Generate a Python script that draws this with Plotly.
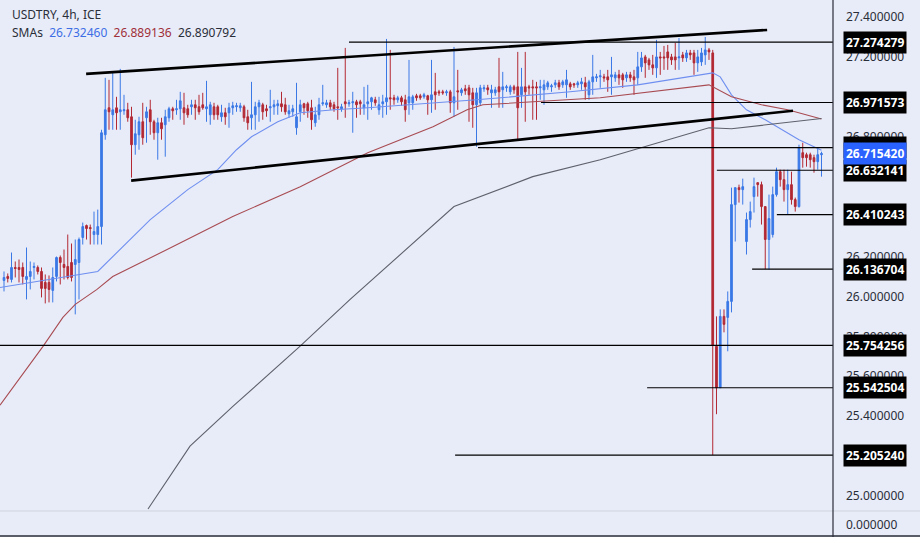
import plotly.graph_objects as go

# ---------------- data (USDTRY 4h) ----------------
opens = [26.080,26.100,26.085,26.145,26.145,26.145,26.085,26.100,26.145,26.145,
26.125,26.070,26.070,26.030,26.100,26.195,26.160,26.150,26.170,26.160,
26.170,26.295,26.355,26.345,26.310,26.310,26.350,26.810,26.945,26.910,
26.945,26.925,26.930,26.935,26.900,26.760,26.810,26.875,26.895,26.935,
26.875,26.820,26.870,26.860,26.895,26.940,26.935,26.940,26.945,26.940,
26.950,26.960,26.950,26.960,26.940,26.910,26.950,26.950,26.900,26.920,
26.920,26.945,26.950,26.945,26.950,26.900,26.895,26.910,26.950,26.960,
26.940,26.945,26.950,26.955,26.965,26.960,26.915,26.925,26.845,26.925,
26.965,26.965,26.945,26.870,26.910,26.965,26.960,26.970,26.960,26.950,
26.940,26.975,26.965,26.970,26.975,26.975,26.945,26.965,26.975,26.985,
26.935,26.965,26.975,26.995,26.995,26.985,26.995,26.985,26.970,26.970,
27.005,27.005,27.000,27.005,26.985,27.025,27.025,27.025,27.020,27.025,
26.970,27.030,27.020,27.040,27.045,27.020,26.960,26.970,27.040,27.045,
27.020,27.020,27.050,27.035,27.045,27.025,27.050,27.050,27.010,27.050,
27.050,27.050,27.050,27.045,27.035,27.050,27.050,27.060,27.070,27.060,
27.060,27.065,27.065,27.060,27.065,27.070,27.010,27.075,27.095,27.100,
27.100,27.100,27.100,27.095,27.110,27.110,27.095,27.110,27.100,27.095,
27.150,27.200,27.185,27.160,27.145,27.200,27.200,27.225,27.200,27.200,
27.195,27.210,27.195,27.220,27.220,27.170,27.175,27.210,27.235,27.220,
25.750,25.5425,25.900,25.895,25.975,26.460,26.545,26.535,26.275,26.385,
26.500,26.570,26.560,26.450,26.285,26.310,26.510,26.625,26.585,26.535,
26.560,26.485,26.450,26.720,26.710,26.710,26.695,26.675,26.710]
highs = [26.125,26.115,26.220,26.175,26.185,26.170,26.245,26.175,26.170,26.155,
26.145,26.110,26.105,26.145,26.200,26.205,26.235,26.310,26.265,26.285,
26.295,26.370,26.360,26.360,26.425,26.435,26.835,27.095,27.085,27.120,
27.000,27.140,27.010,26.970,26.950,26.885,26.900,26.970,26.950,26.985,
26.885,26.895,26.895,26.935,26.950,26.950,26.985,27.025,27.020,26.960,
26.985,26.985,27.010,27.020,27.080,26.975,26.970,26.960,26.960,26.945,
26.970,26.975,26.970,26.970,26.960,26.935,27.075,26.975,26.985,26.970,
26.960,27.035,26.985,26.985,27.025,26.995,26.960,26.960,27.070,26.985,
26.970,26.975,26.985,26.950,26.995,27.060,26.985,26.985,26.975,27.145,
26.965,27.245,26.985,27.025,26.985,26.985,27.050,27.060,27.000,27.000,
27.000,27.010,27.290,27.235,27.010,27.005,27.005,27.010,27.185,27.010,
27.015,27.015,27.020,27.010,27.185,27.120,27.035,27.035,27.035,27.035,
27.250,27.135,27.045,27.060,27.060,27.045,27.045,27.060,27.060,27.060,
27.060,27.050,27.195,27.125,27.060,27.060,27.060,27.225,27.145,27.225,
27.060,27.085,27.075,27.085,27.085,27.080,27.065,27.085,27.085,27.085,
27.135,27.075,27.070,27.080,27.095,27.100,27.085,27.210,27.115,27.135,
27.115,27.135,27.200,27.125,27.135,27.120,27.125,27.125,27.135,27.225,
27.225,27.210,27.195,27.210,27.285,27.225,27.255,27.260,27.215,27.270,
27.295,27.225,27.235,27.235,27.235,27.235,27.245,27.300,27.245,27.235,
25.900,25.935,25.935,26.025,26.545,26.545,26.560,26.590,26.420,26.475,
26.595,26.570,26.575,26.450,26.510,26.550,26.645,26.635,26.635,26.635,
26.625,26.495,26.760,26.770,26.720,26.720,26.710,26.745,26.725]
lows = [26.025,26.070,26.070,26.095,26.070,26.060,25.985,26.035,26.085,26.110,
25.995,25.965,25.970,25.970,26.075,26.060,26.085,26.085,26.075,25.910,
25.985,26.260,26.285,26.260,26.260,26.260,26.260,26.785,26.835,26.835,
26.835,26.835,26.910,26.875,26.595,26.710,26.735,26.760,26.770,26.810,
26.785,26.685,26.785,26.700,26.875,26.885,26.910,26.885,26.860,26.895,
26.910,26.885,26.910,26.935,26.875,26.860,26.885,26.885,26.875,26.860,
26.845,26.910,26.925,26.925,26.875,26.835,26.835,26.835,26.875,26.885,
26.900,26.875,26.910,26.910,26.925,26.910,26.895,26.900,26.810,26.875,
26.910,26.895,26.835,26.850,26.885,26.955,26.945,26.935,26.925,26.885,
26.925,26.895,26.950,26.820,26.895,26.910,26.910,26.885,26.935,26.955,
26.910,26.895,26.910,26.935,26.960,26.970,26.955,26.875,26.910,26.935,
26.980,26.985,26.990,26.910,26.920,26.935,27.005,27.010,27.005,26.920,
26.900,26.935,27.005,27.010,26.875,26.845,26.750,26.955,27.025,27.010,
26.945,27.005,26.945,26.945,27.025,27.010,27.015,26.785,26.945,26.875,
27.010,26.885,26.885,26.985,26.960,27.035,27.025,27.045,27.035,27.045,
26.995,27.035,27.045,27.045,27.035,26.985,26.985,27.010,27.075,27.045,
27.075,27.025,27.010,27.075,27.060,27.045,27.075,27.075,27.010,27.060,
27.125,27.095,27.135,27.110,27.095,27.110,27.135,27.135,27.160,27.135,
27.135,27.175,27.175,27.185,27.110,27.125,27.155,27.160,27.185,25.20524,
25.410,25.545,25.820,25.725,25.920,26.275,26.470,26.460,26.210,26.345,
26.420,26.500,26.360,26.136704,26.135,26.295,26.500,26.550,26.475,26.410243,
26.460,26.425,26.445,26.645,26.650,26.645,26.620,26.635,26.600]
closes = [26.095,26.090,26.145,26.140,26.135,26.100,26.100,26.125,26.150,26.125,
26.040,26.040,26.035,26.095,26.195,26.170,26.145,26.095,26.095,26.185,
26.285,26.350,26.340,26.340,26.325,26.350,26.820,26.935,26.925,26.935,
26.920,26.935,26.935,26.895,26.760,26.815,26.875,26.795,26.925,26.875,
26.820,26.870,26.840,26.900,26.940,26.930,26.940,26.980,26.920,26.910,
26.960,26.945,26.925,26.945,26.950,26.960,26.910,26.910,26.920,26.900,
26.945,26.955,26.955,26.955,26.895,26.870,26.910,26.950,26.970,26.925,
26.930,26.950,26.960,26.965,26.950,26.925,26.930,26.940,26.900,26.960,
26.945,26.930,26.885,26.910,26.960,26.970,26.970,26.950,26.940,26.945,
26.950,26.965,26.970,26.975,26.960,26.965,26.960,26.975,26.995,26.970,
26.960,26.975,26.995,26.990,26.985,26.995,26.975,26.935,27.000,27.000,
26.995,26.995,27.010,26.985,27.010,27.010,27.020,27.020,27.025,26.970,
27.000,27.025,27.035,27.030,27.010,26.960,27.020,27.045,27.045,27.035,
27.035,27.035,27.025,27.050,27.050,27.050,27.035,26.945,27.050,27.025,
27.045,27.045,27.045,27.050,27.060,27.070,27.055,27.070,27.050,27.075,
27.085,27.050,27.060,27.070,27.075,27.050,27.075,27.100,27.100,27.105,
27.095,27.085,27.110,27.110,27.095,27.085,27.110,27.095,27.085,27.150,
27.195,27.170,27.160,27.145,27.200,27.195,27.195,27.195,27.185,27.185,
27.200,27.195,27.220,27.210,27.170,27.200,27.220,27.235,27.225,25.754256,
25.542504,25.900,25.860,25.975,26.460,26.545,26.535,26.550,26.385,26.425,
26.550,26.560,26.450,26.285,26.390,26.510,26.625,26.585,26.535,26.560,
26.485,26.450,26.745,26.695,26.695,26.685,26.675,26.710,26.715420]

# SMA lines (candle index, value)
sma_fast_idx = [-1.07, 25, 39, 49, 57, 62, 66, 73, 79, 88, 97, 108, 126, 151, 169, 189, 191, 194, 198, 203, 212, 218]
sma_fast_val = [26.045, 26.125, 26.385, 26.535, 26.635, 26.735, 26.800, 26.875, 26.920, 26.935, 26.945, 26.960,
                26.985, 27.025, 27.060, 27.120, 27.100, 27.010, 26.935, 26.885, 26.785, 26.7325]
sma_mid_idx = [-1.07, 10.4, 15.7, 19, 24.8, 29, 43.5, 61, 79, 97, 114.4, 123.5, 127.7, 141, 159, 188, 194, 202, 209, 218]
sma_mid_val = [25.455, 25.750, 25.895, 25.960, 26.035, 26.100, 26.235, 26.400, 26.550, 26.720, 26.850, 26.935,
               26.960, 26.975, 26.995, 27.060, 27.000, 26.960, 26.935, 26.889]
sma_slow_idx = [38.4, 49.6, 61.1, 78.9, 92.3, 105.6, 120, 141, 159, 188, 194, 218]
sma_slow_val = [24.935, 25.250, 25.450, 25.750, 25.985, 26.210, 26.450, 26.600, 26.685, 26.845, 26.840, 26.891]

sma_labels = ["26.732460", "26.889136", "26.890792"]

# drawn channel lines: (idx0, price0, idx1, price1)
trend_lines = [(21.9, 27.115, 203.5, 27.335), (33.9, 26.580, 210.4, 26.930)]

# horizontal levels: (price, start index)
levels = [(27.274279, 92.0), (26.971573, 143.2), (26.745, 126.4), (26.632141, 190.1),
          (26.410243, 206.1), (26.136704, 199.5), (25.754256, -1.07), (25.542504, 171.5),
          (25.205240, 120.3)]
last_price = 26.715420
tick_vals = [25.0, 25.2, 25.4, 25.6, 25.8, 26.0, 26.2, 26.4, 26.6, 26.8, 27.0, 27.2, 27.4]

# ---------------- figure ----------------
BG = "#E8ECF8"
X_MIN, X_MAX = -1.07, 221.07
Y_MIN, Y_MAX = 24.930, 27.485
FONT = "Noto Sans"
W, H = 920, 537
XD = 833 / W

fig = go.Figure()
idx = list(range(len(opens)))
fig.add_trace(go.Candlestick(
    x=idx, open=opens, high=highs, low=lows, close=closes,
    increasing=dict(line=dict(color="#3a78e6", width=1), fillcolor="#3a78e6"),
    decreasing=dict(line=dict(color="#b22833", width=1), fillcolor="#b22833"),
    whiskerwidth=0, showlegend=False, hoverinfo="skip"))

fig.add_trace(go.Scatter(x=sma_fast_idx, y=sma_fast_val, mode="lines",
                         line=dict(color="#6f8ff0", width=1.1), showlegend=False, hoverinfo="skip"))
fig.add_trace(go.Scatter(x=sma_mid_idx, y=sma_mid_val, mode="lines",
                         line=dict(color="#a84b52", width=1.1), showlegend=False, hoverinfo="skip"))
fig.add_trace(go.Scatter(x=sma_slow_idx, y=sma_slow_val, mode="lines",
                         line=dict(color="#5e616b", width=1.1), showlegend=False, hoverinfo="skip"))
# lower (empty) pane
fig.add_trace(go.Scatter(x=[], y=[], xaxis="x2", yaxis="y2", showlegend=False))

shapes = []
for (a0, p0, a1, p1) in trend_lines:
    shapes.append(dict(type="line", xref="x", yref="y", x0=a0, y0=p0, x1=a1, y1=p1,
                       line=dict(color="#000000", width=2.6)))
for (p, s) in levels:
    shapes.append(dict(type="line", xref="x", yref="y", x0=s, y0=p, x1=X_MAX, y1=p,
                       line=dict(color="#000000", width=1.2)))
# pane separators / axis border
shapes.append(dict(type="line", xref="paper", yref="paper", x0=0, x1=1,
                   y0=26 / H, y1=26 / H, line=dict(color="#cfd3de", width=1)))
shapes.append(dict(type="line", xref="paper", yref="paper", x0=0, x1=1,
                   y0=1 / H, y1=1 / H, line=dict(color="#2a2e39", width=1.5)))
shapes.append(dict(type="line", xref="paper", yref="paper", x0=XD, x1=XD,
                   y0=0, y1=1, line=dict(color="#2a2e39", width=1.2)))

LBL_X = (XD * W + 10) / W
annotations = []
for (p, s) in levels:
    annotations.append(dict(xref="paper", yref="y", x=LBL_X, y=p, xanchor="left",
                            yanchor="middle", text=f"{p:.6f}", showarrow=False,
                            bgcolor="#000000", borderpad=2,
                            font=dict(family=FONT, size=12, color="#ffffff", weight="bold")))
annotations.append(dict(xref="paper", yref="y", x=LBL_X, y=last_price, xanchor="left",
                        yanchor="middle", text=f"{last_price:.6f}", showarrow=False,
                        bgcolor="#2962FF", borderpad=2,
                        font=dict(family=FONT, size=12, color="#ffffff", weight="bold")))
annotations.append(dict(xref="paper", yref="paper", x=10 / W, y=1 - 4 / H, xanchor="left", yanchor="top",
                        text="USDTRY, 4h, ICE", showarrow=False,
                        font=dict(family=FONT, size=12, color="#2a2e39")))
annotations.append(dict(xref="paper", yref="paper", x=10 / W, y=1 - 22 / H, xanchor="left", yanchor="top",
                        text=("SMAs  <span style='color:#3d6ee6'>%s</span>  "
                              "<span style='color:#a0303a'>%s</span>  "
                              "<span style='color:#2a2e39'>%s</span>") % tuple(sma_labels),
                        showarrow=False, font=dict(family=FONT, size=12, color="#2a2e39")))

fig.update_layout(
    width=W, height=H, margin=dict(l=0, r=0, t=0, b=0),
    paper_bgcolor=BG, plot_bgcolor=BG, showlegend=False,
    boxgap=0.35,
    xaxis=dict(domain=[0, XD], range=[X_MIN, X_MAX], showgrid=False, zeroline=False,
               showticklabels=False, ticks="", rangeslider=dict(visible=False), showline=False),
    yaxis=dict(domain=[27 / H, 1], range=[Y_MIN, Y_MAX], side="right", anchor="x",
               tickvals=tick_vals, tickformat=".6f", showgrid=False, zeroline=False, ticks="",
               ticklabelstandoff=12, tickfont=dict(family=FONT, size=12, color="#2a2e39")),
    xaxis2=dict(domain=[0, XD], range=[X_MIN, X_MAX], anchor="y2", showgrid=False, zeroline=False,
                showticklabels=False, ticks="", matches="x"),
    yaxis2=dict(domain=[0, 25 / H], range=[-1, 1], side="right", anchor="x2",
                tickvals=[0], tickformat=".6f", showgrid=False, zeroline=False, ticks="",
                ticklabelstandoff=12, tickfont=dict(family=FONT, size=12, color="#2a2e39")),
    shapes=shapes, annotations=annotations,
)

fig.write_html("out.html", config={"displayModeBar": False},
               post_script="document.body.style.margin='0';document.body.style.background='%s';" % BG)
